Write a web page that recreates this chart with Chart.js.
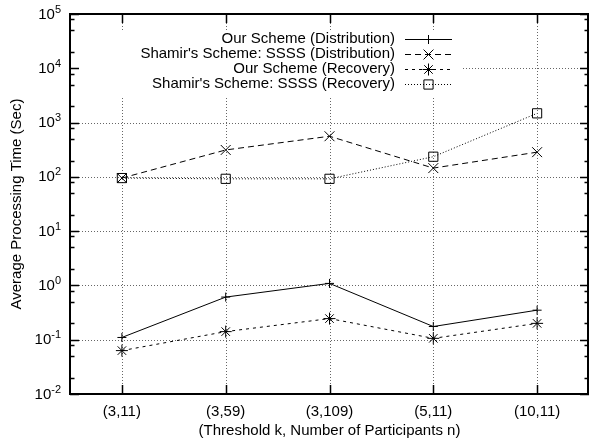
<!DOCTYPE html>
<html>
<head>
<meta charset="utf-8">
<script src="https://cdn.jsdelivr.net/npm/chart.js@4.4.1/dist/chart.umd.min.js"></script>
<style>
  html, body { margin: 0; padding: 0; background: #fff; }
  #wrap { width: 597px; height: 445px; }
</style>
</head>
<body>
<div id="wrap"><canvas id="myChart" width="597" height="445"></canvas></div>
<script>
const categories = ["(3,11)", "(3,59)", "(3,109)", "(5,11)", "(10,11)"];
const ourDistribution = [0.11, 0.61, 1.09, 0.175, 0.35];
const shamirDistribution = [95, 313, 560, 145, 285];
const ourRecovery = [0.063, 0.141, 0.245, 0.106, 0.2];
const shamirRecovery = [95, 92, 92, 235, 1480];
const yTickExponents = [-2, -1, 0, 1, 2, 3, 4, 5];
const yMinorSteps = [2, 5, 8];
const seriesNames = [
  "Our Scheme (Distribution)",
  "Shamir's Scheme: SSSS (Distribution)",
  "Our Scheme (Recovery)",
  "Shamir's Scheme: SSSS (Recovery)",
];

const FONT = '"Liberation Sans", Arial, Helvetica, sans-serif';

const styles = [
  { dash: [], point: "cross", radius: 4.5 },
  { dash: [6, 4], point: "crossRot", radius: 7 },
  { dash: [3, 4], point: "star", radius: 6 },
  { dash: [1, 2], point: "rect", radius: 6.5 },
];

const seriesData = [ourDistribution, shamirDistribution, ourRecovery, shamirRecovery];

const datasets = seriesData.map((data, i) => ({
  label: seriesNames[i],
  data: data,
  borderColor: "#000",
  backgroundColor: "rgba(0,0,0,0)",
  borderWidth: 1,
  borderDash: styles[i].dash,
  pointStyle: styles[i].point,
  pointRadius: styles[i].radius,
  pointBorderWidth: 1,
  pointBorderColor: "#000",
  pointBackgroundColor: "rgba(0,0,0,0)",
  tension: 0,
  fill: false,
}));

// small marker painter for the key
function drawMarker(ctx, style, r, x, y) {
  ctx.save();
  ctx.setLineDash([]);
  ctx.lineWidth = 1;
  ctx.strokeStyle = "#000";
  ctx.beginPath();
  if (style === "cross" || style === "star") {
    ctx.moveTo(x - r, y); ctx.lineTo(x + r, y);
    ctx.moveTo(x, y - r); ctx.lineTo(x, y + r);
  }
  if (style === "crossRot" || style === "star") {
    const d = r * Math.SQRT1_2;
    ctx.moveTo(x - d, y - d); ctx.lineTo(x + d, y + d);
    ctx.moveTo(x - d, y + d); ctx.lineTo(x + d, y - d);
  }
  if (style === "rect") {
    const s = r * Math.SQRT1_2;
    ctx.rect(x - s, y - s, 2 * s, 2 * s);
  }
  ctx.stroke();
  ctx.restore();
}

const gnuplotFrame = {
  id: "gnuplotFrame",
  beforeDatasetsDraw(chart) {
    const { ctx, chartArea: a, scales } = chart;
    ctx.save();
    ctx.strokeStyle = "#666";
    ctx.lineWidth = 1;
    ctx.setLineDash([1, 2]);
    // horizontal grid
    yTickExponents.forEach((e) => {
      const y = Math.round(scales.y.getPixelForValue(Math.pow(10, e))) + 0.5;
      ctx.beginPath();
      ctx.moveTo(a.left, y);
      ctx.lineTo(a.right, y);
      ctx.stroke();
    });
    // vertical grid
    categories.forEach((c, i) => {
      const x = Math.round(scales.x.getPixelForValue(i)) + 0.5;
      ctx.beginPath();
      ctx.moveTo(x, a.top);
      ctx.lineTo(x, a.bottom);
      ctx.stroke();
    });
    ctx.restore();
    // key background
    ctx.save();
    ctx.fillStyle = "#fff";
    ctx.fillRect(a.left + 1, 30, 390, 66);
    ctx.restore();
  },
  afterDraw(chart) {
    const { ctx, chartArea: a, scales } = chart;
    ctx.save();
    ctx.strokeStyle = "#000";
    ctx.setLineDash([]);

    // ticks
    ctx.lineWidth = 1.5;
    ctx.beginPath();
    yTickExponents.forEach((e) => {
      const y = Math.round(scales.y.getPixelForValue(Math.pow(10, e))) + 0.5;
      ctx.moveTo(a.left, y); ctx.lineTo(a.left + 9, y);
      ctx.moveTo(a.right, y); ctx.lineTo(a.right - 9, y);
      if (e < yTickExponents[yTickExponents.length - 1]) {
        yMinorSteps.forEach((m) => {
          const ym = Math.round(scales.y.getPixelForValue(m * Math.pow(10, e))) + 0.5;
          ctx.moveTo(a.left, ym); ctx.lineTo(a.left + 4.5, ym);
          ctx.moveTo(a.right, ym); ctx.lineTo(a.right - 4.5, ym);
        });
      }
    });
    categories.forEach((c, i) => {
      const x = Math.round(scales.x.getPixelForValue(i)) + 0.5;
      ctx.moveTo(x, a.bottom); ctx.lineTo(x, a.bottom - 9);
      ctx.moveTo(x, a.top); ctx.lineTo(x, a.top + 9);
    });
    ctx.stroke();

    // frame
    ctx.lineWidth = 2;
    ctx.strokeRect(a.left, a.top, a.right - a.left - 1, a.bottom - a.top);

    // y tick labels 10^e
    ctx.fillStyle = "#000";
    yTickExponents.forEach((e) => {
      const y = scales.y.getPixelForValue(Math.pow(10, e));
      const sup = String(e);
      ctx.font = "11px " + FONT;
      const supW = ctx.measureText(sup).width;
      const right = 61;
      ctx.textAlign = "left";
      ctx.textBaseline = "alphabetic";
      ctx.fillText(sup, right - supW, y - 1.5);
      ctx.font = "15px " + FONT;
      ctx.textAlign = "right";
      ctx.textBaseline = "middle";
      ctx.fillText("10", right - supW, y + 0.5);
    });

    // x tick labels
    ctx.font = "15px " + FONT;
    ctx.textAlign = "center";
    ctx.textBaseline = "middle";
    categories.forEach((c, i) => {
      ctx.fillText(c, scales.x.getPixelForValue(i), 412);
    });

    // axis titles
    ctx.fillText("(Threshold k, Number of Participants n)", (a.left + a.right) / 2, 431);
    ctx.save();
    ctx.translate(17, (a.top + a.bottom) / 2);
    ctx.rotate(-Math.PI / 2);
    ctx.fillText("Average Processing Time (Sec)", 0, 0);
    ctx.restore();

    // key
    const rows = [38.5, 53.7, 69, 84.2];
    seriesNames.forEach((name, i) => {
      const y = rows[i];
      ctx.font = "15px " + FONT;
      ctx.textAlign = "right";
      ctx.textBaseline = "middle";
      ctx.fillText(name, 395, y);
      ctx.save();
      ctx.lineWidth = 1;
      ctx.setLineDash(styles[i].dash);
      ctx.beginPath();
      ctx.moveTo(405, Math.round(y) + 0.5);
      ctx.lineTo(452, Math.round(y) + 0.5);
      ctx.stroke();
      ctx.restore();
      drawMarker(ctx, styles[i].point, styles[i].radius, 428.5, Math.round(y) + 0.5);
    });
    ctx.restore();
  },
};

const ctx = document.getElementById("myChart").getContext("2d");
const chart = new Chart(ctx, {
  type: "line",
  data: {
    labels: categories,
    datasets: datasets,
  },
  options: {
    responsive: false,
    animation: false,
    devicePixelRatio: 1,
    layout: { padding: { top: 14, right: 0, bottom: 0, left: 0 } },
    plugins: {
      legend: { display: false },
      tooltip: { enabled: false },
    },
    scales: {
      x: {
        type: "category",
        offset: true,
        grid: { display: false },
        border: { display: false },
        ticks: { display: false },
        afterFit: (s) => { s.height = 51; },
      },
      y: {
        type: "logarithmic",
        min: 0.01,
        max: 100000,
        grid: { display: false },
        border: { display: false },
        ticks: { display: false },
        afterFit: (s) => { s.width = 70; },
      },
    },
  },
  plugins: [gnuplotFrame],
});
</script>
</body>
</html>
